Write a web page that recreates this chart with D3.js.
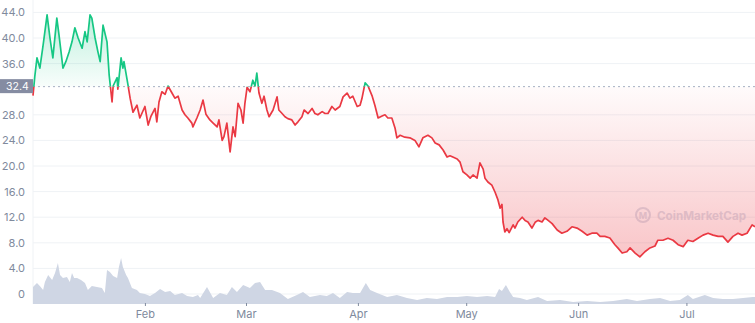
<!DOCTYPE html>
<html lang="en">
<head>
<meta charset="UTF-8">
<title>Price chart</title>
<script src="https://d3js.org/d3.v7.min.js"></script>
<style>
  body { margin: 0; background: #fff; }
  svg text { font-family: Inter, "Noto Sans", sans-serif; }
</style>
</head>
<body>
<script>
    // day offsets from 1 Jan 2022 and price readings
    const priceDays = [0, 0.5, 1.1, 1.9, 2.8, 3.9, 4.7, 5.5, 6.6, 7.2, 8.3, 9.1, 10.0, 10.8, 11.6, 12.5, 13.6, 14.4, 15.0, 15.8,
        16.3, 17.2, 18.0, 18.6, 19.4, 20.5, 21.1, 21.9, 22.2, 23.3, 23.5, 24.4, 24.9, 25.2, 26.3, 26.9, 27.7, 28.8, 29.6, 31.0,
        31.9, 32.7, 33.8, 34.3, 34.9, 35.7, 36.6, 37.4, 38.5, 39.3, 40.2, 41.3, 42.1, 42.9, 44.0, 44.3, 45.4, 46.3, 47.1, 47.9,
        49.0, 49.9, 51.0, 51.5, 52.4, 52.9, 53.7, 54.6, 55.4, 56.0, 56.8, 57.6, 58.2, 58.7, 59.3, 60.1, 60.9, 61.5, 62.0, 62.6,
        63.4, 64.0, 64.8, 65.4, 66.5, 67.6, 68.1, 69.0, 69.8, 70.6, 71.7, 72.6, 73.4, 74.5, 75.1, 76.2, 77.3, 78.1, 78.9, 80.1,
        80.9, 81.7, 82.8, 83.7, 85.0, 85.9, 87.0, 87.8, 88.6, 89.8, 90.6, 91.1, 92.0, 92.8, 93.9, 94.7, 95.6, 96.7, 97.5, 98.3,
        99.4, 100.3, 100.8, 101.7, 103.0, 104.4, 105.8, 106.9, 108.0, 109.4, 110.5, 111.4, 112.5, 113.6, 114.7, 115.5, 116.3, 117.5, 118.3, 119.1,
        120.2, 121.1, 121.9, 123.0, 123.8, 124.7, 125.2, 126.0, 127.1, 128.0, 128.8, 129.4, 129.9, 130.2, 130.7, 131.3, 131.9, 133.0, 133.5, 134.3,
        135.5, 136.3, 137.1, 138.2, 139.1, 139.9, 141.0, 141.8, 142.7, 143.8, 145.2, 146.5, 147.9, 149.3, 150.7, 152.1, 153.5, 154.8, 156.2, 157.1,
        158.4, 159.8, 161.2, 162.0, 163.2, 164.5, 165.4, 166.8, 168.1, 169.5, 170.9, 172.3, 173.1, 174.5, 175.9, 177.3, 178.7, 180.1, 181.4, 182.8,
        184.2, 185.6, 187.0, 188.4, 189.8, 191.1, 192.5, 193.9, 195.3, 196.4, 197.8, 199.2, 200];
    const prices = [31.0, 34.0, 36.9, 35.3, 38.9, 43.6, 40.0, 36.9, 43.1, 40.5, 35.3, 36.3, 37.8, 39.4, 41.6, 40.0, 38.4, 41.0, 39.4, 43.6,
        43.1, 40.0, 37.8, 36.3, 42.0, 39.4, 34.2, 30.0, 32.5, 33.8, 32.0, 36.9, 35.3, 36.3, 32.7, 30.6, 28.4, 29.5, 27.5, 29.3,
        26.4, 27.8, 29.0, 26.9, 30.0, 31.6, 31.2, 32.5, 31.4, 30.6, 30.9, 28.75, 28.0, 27.5, 26.7, 26.1, 27.5, 28.75, 30.3, 28.1,
        27.2, 26.7, 26.1, 27.2, 24.0, 24.6, 26.7, 22.2, 26.1, 24.6, 29.8, 28.75, 26.7, 29.8, 32.3, 31.6, 33.4, 32.5, 34.5, 31.4,
        29.8, 30.9, 28.75, 27.7, 28.75, 30.8, 28.75, 28.2, 27.7, 27.4, 27.2, 26.4, 26.9, 27.7, 28.75, 28.2, 29.0, 28.2, 28.0, 28.5,
        28.2, 28.2, 29.3, 28.75, 29.3, 30.8, 31.4, 30.6, 30.9, 29.3, 29.5, 30.5, 33.0, 32.5, 31.0, 29.5, 27.5, 27.8, 28.0, 27.5,
        27.5, 25.9, 24.4, 24.8, 24.5, 24.4, 24.0, 23.0, 24.4, 24.8, 24.4, 23.6, 23.3, 22.5, 21.4, 21.6, 21.4, 21.1, 20.6, 19.1,
        18.6, 18.1, 18.6, 18.1, 20.5, 19.5, 18.1, 17.5, 17.0, 15.9, 14.7, 13.4, 14.0, 11.25, 9.7, 10.2, 9.6, 10.8, 10.3, 11.25,
        12.0, 11.5, 11.25, 10.3, 11.2, 11.5, 11.25, 11.9, 11.5, 11.0, 10.0, 9.5, 9.8, 10.5, 10.3, 9.8, 9.2, 9.5, 9.5, 9.0,
        9.0, 8.75, 7.7, 7.2, 6.4, 6.6, 7.2, 6.4, 5.8, 6.6, 7.2, 7.5, 8.4, 8.4, 8.7, 8.4, 7.7, 7.4, 8.4, 8.2,
        8.7, 9.2, 9.5, 9.2, 9.0, 9.0, 8.1, 9.0, 9.5, 9.2, 9.5, 10.8, 10.5];

    // volume readings (millions), day offsets from 1 Jan 2022
    const volumeDays = [0, 1.1, 1.9, 2.8, 3.3, 4.2, 5.3, 6.1, 6.9, 7.5, 8.3, 9.4, 10.2, 10.8, 11.4, 12.2, 13.3, 14.4, 15.2, 16.3,
        17.7, 19.1, 19.9, 20.5, 21.3, 22.2, 23.3, 23.8, 24.4, 24.9, 25.8, 26.3, 27.4, 28.8, 29.6, 31.0, 32.4, 33.8, 35.2, 36.6,
        38.0, 39.3, 41.3, 42.7, 44.3, 45.7, 46.3, 48.2, 49.9, 51.8, 53.7, 55.1, 56.5, 58.2, 60.1, 61.5, 62.9, 64.3, 66.2, 68.4,
        70.6, 73.1, 74.8, 76.7, 79.5, 81.4, 83.1, 85.0, 87.0, 88.6, 90.6, 92.2, 93.4, 95.3, 98.1, 100.8, 103.6, 106.4, 109.1, 111.9,
        114.7, 117.5, 120.2, 123.0, 125.8, 128.0, 129.1, 129.9, 131.0, 132.1, 133.0, 134.9, 136.8, 139.9, 142.4, 146.0, 149.6, 153.5, 157.1, 160.7,
        164.5, 167.3, 170.9, 173.7, 176.5, 179.2, 181.4, 182.8, 186.1, 188.4, 191.1, 193.9, 196.7, 199.4, 200];
    const volumes = [170, 210, 180, 140, 220, 290, 240, 310, 410, 290, 260, 270, 220, 310, 260, 260, 240, 210, 140, 180,
        170, 160, 110, 340, 320, 280, 260, 370, 460, 370, 290, 260, 160, 140, 110, 100, 80, 110, 150, 120,
        130, 90, 110, 80, 70, 90, 60, 170, 60, 110, 90, 170, 120, 190, 160, 210, 220, 140, 140, 110,
        50, 90, 120, 70, 90, 80, 110, 60, 120, 110, 110, 210, 140, 110, 70, 90, 60, 40, 60, 50,
        70, 70, 80, 70, 80, 70, 150, 130, 190, 120, 70, 60, 40, 70, 30, 40, 20, 30, 20, 30,
        50, 30, 50, 60, 30, 40, 90, 50, 90, 60, 50, 50, 60, 70, 70];

    const priceTicks = [0, 4, 8, 12, 16, 20, 24, 28, 36, 40, 44];
    const openPrice = 32.4;
    const monthTicks = ["2022-02-01", "2022-03-01", "2022-04-01", "2022-05-01", "2022-06-01", "2022-07-01"];

    const width = 755;
    const height = 323;
    const left = 33;
    const start = new Date(2022, 0, 1);
    const toDate = d => new Date(start.getTime() + d * 864e5);

    const priceData = priceDays.map((d, i) => ({ date: toDate(d), value: prices[i] }));
    const volumeData = volumeDays.map((d, i) => ({ date: toDate(d), value: volumes[i] }));

    const svg = d3.select("body").append("svg")
        .attr("width", width)
        .attr("height", height);

    const x = d3.scaleTime()
        .domain([start, toDate(200)])
        .range([left, width]);

    const y = d3.scaleLinear()
        .domain([0, 44])
        .range([294, 12.4]);

    const yVol = d3.scaleLinear()
        .domain([0, 500])
        .range([304, 254]);

    const base = y(openPrice);
    const defs = svg.append("defs");

    defs.append("clipPath").attr("id", "above")
        .append("rect").attr("x", 0).attr("y", 0).attr("width", width).attr("height", base);
    defs.append("clipPath").attr("id", "below")
        .append("rect").attr("x", 0).attr("y", base).attr("width", width).attr("height", height - base);

    const gGreen = defs.append("linearGradient").attr("id", "gGreen")
        .attr("gradientUnits", "userSpaceOnUse")
        .attr("x1", 0).attr("x2", 0).attr("y1", y(44)).attr("y2", base);
    gGreen.append("stop").attr("offset", 0).attr("stop-color", "#16c784").attr("stop-opacity", 0.28);
    gGreen.append("stop").attr("offset", 1).attr("stop-color", "#16c784").attr("stop-opacity", 0.03);

    const gRed = defs.append("linearGradient").attr("id", "gRed")
        .attr("gradientUnits", "userSpaceOnUse")
        .attr("x1", 0).attr("x2", 0).attr("y1", base).attr("y2", y(5));
    gRed.append("stop").attr("offset", 0).attr("stop-color", "#ea3943").attr("stop-opacity", 0.02);
    gRed.append("stop").attr("offset", 1).attr("stop-color", "#ea3943").attr("stop-opacity", 0.3);

    // grid
    svg.append("g")
        .selectAll("line")
        .data(priceTicks)
        .join("line")
        .attr("x1", left).attr("x2", width)
        .attr("y1", d => y(d)).attr("y2", d => y(d))
        .attr("stroke", "#eff2f5");

    svg.append("line")
        .attr("x1", left).attr("x2", left)
        .attr("y1", 0).attr("y2", 304)
        .attr("stroke", "#eff2f5");

    // volume
    svg.append("path")
        .datum(volumeData)
        .attr("fill", "#cfd6e4")
        .attr("d", d3.area()
            .x(d => x(d.date))
            .y0(yVol(0))
            .y1(d => yVol(d.value)));

    // watermark
    const wm = svg.append("g").attr("opacity", 0.75);
    wm.append("circle").attr("cx", 643).attr("cy", 215).attr("r", 7)
        .attr("fill", "none").attr("stroke", "#cfd6e4").attr("stroke-width", 2);
    wm.append("text").attr("x", 643).attr("y", 218.5).attr("text-anchor", "middle")
        .attr("font-size", 9).attr("font-weight", 700).attr("fill", "#cfd6e4").text("M");
    wm.append("text").attr("x", 657).attr("y", 219.5)
        .attr("font-size", 12).attr("font-weight", 700).attr("fill", "#cfd6e4")
        .attr("textLength", 89).attr("lengthAdjust", "spacingAndGlyphs")
        .text("CoinMarketCap");

    // price fills
    svg.append("path")
        .datum(priceData)
        .attr("clip-path", "url(#above)")
        .attr("fill", "url(#gGreen)")
        .attr("d", d3.area().x(d => x(d.date)).y0(base).y1(d => y(d.value)));

    svg.append("path")
        .datum(priceData)
        .attr("clip-path", "url(#below)")
        .attr("fill", "url(#gRed)")
        .attr("d", d3.area().x(d => x(d.date)).y0(base).y1(d => y(d.value)));

    // baseline
    svg.append("line")
        .attr("x1", left).attr("x2", width)
        .attr("y1", base).attr("y2", base)
        .attr("stroke", "#a6b0c3")
        .attr("stroke-dasharray", "2,3");

    const line = d3.line().x(d => x(d.date)).y(d => y(d.value));

    svg.append("path")
        .datum(priceData)
        .attr("clip-path", "url(#above)")
        .attr("fill", "none")
        .attr("stroke", "#16c784")
        .attr("stroke-width", 1.7)
        .attr("stroke-linejoin", "round")
        .attr("d", line);

    svg.append("path")
        .datum(priceData)
        .attr("clip-path", "url(#below)")
        .attr("fill", "none")
        .attr("stroke", "#ea3943")
        .attr("stroke-width", 1.7)
        .attr("stroke-linejoin", "round")
        .attr("d", line);

    // y labels
    svg.append("g")
        .selectAll("text")
        .data(priceTicks)
        .join("text")
        .attr("x", 25)
        .attr("y", d => y(d) + 4)
        .attr("text-anchor", "end")
        .attr("font-size", 11)
        .attr("fill", "#808a9d")
        .text(d => d === 0 ? "0" : d.toFixed(1));

    // open price tag
    svg.append("rect")
        .attr("x", 0).attr("y", base - 7.5)
        .attr("width", left).attr("height", 14)
        .attr("fill", "#858ca2");
    svg.append("text")
        .attr("x", 6).attr("y", base + 3.5)
        .attr("font-size", 10.5)
        .attr("fill", "#fff")
        .text(openPrice.toFixed(1));

    // x axis
    const xAxis = svg.append("g")
        .attr("transform", "translate(0,303)")
        .call(d3.axisBottom(x)
            .tickValues(monthTicks.map(s => d3.timeParse("%Y-%m-%d")(s)))
            .tickSize(3)
            .tickFormat(d3.timeFormat("%b")));
    xAxis.select(".domain").remove();
    xAxis.selectAll(".tick line").attr("stroke", "#808a9d");
    xAxis.selectAll(".tick text")
        .attr("fill", "#808a9d")
        .attr("font-size", 11)
        .attr("dy", "0.85em")
        .style("font-family", "Inter, sans-serif");
</script>
</body>
</html>
